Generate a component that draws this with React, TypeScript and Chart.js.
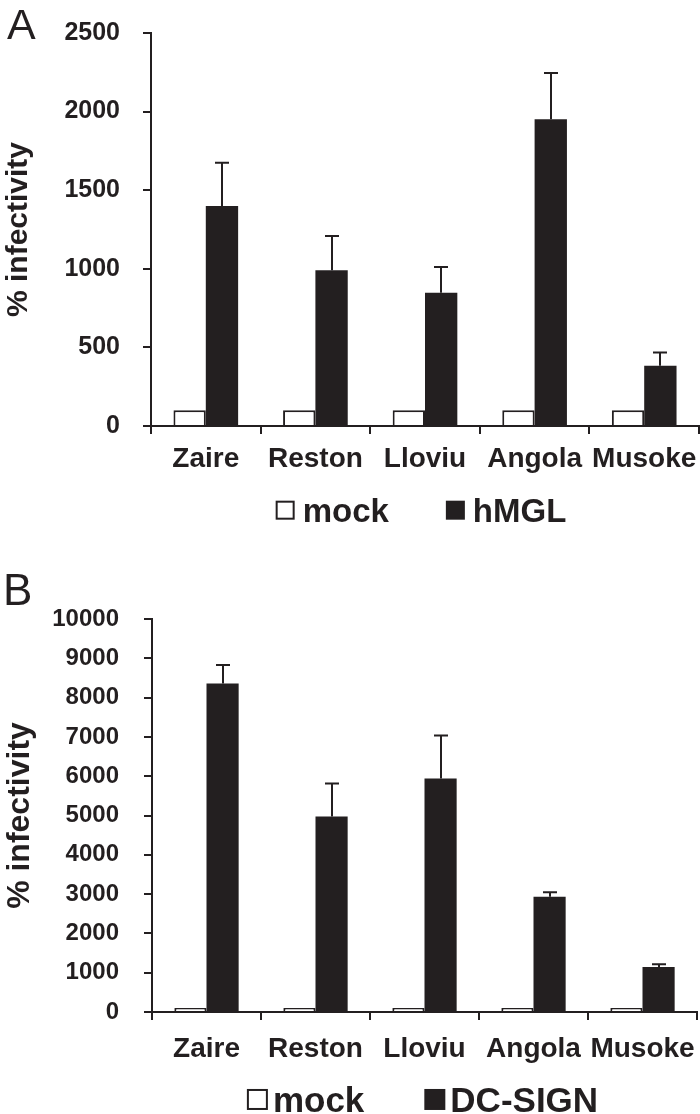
import React, { useEffect, useRef } from 'react';
import { Chart, registerables } from 'chart.js';

Chart.register(...registerables);

const INK = '#231f20';
const FONT = '"Liberation Sans", Arial, Helvetica, sans-serif';

// ---- data ----
const categories = ['Zaire', 'Reston', 'Lloviu', 'Angola', 'Musoke'];

const mockA = [100, 100, 100, 100, 100];
const hmglValues = [1400, 990, 848, 1952, 384];
const hmglUpper = [1675, 1208, 1012, 2245, 468];
const yTicksA = [0, 500, 1000, 1500, 2000, 2500];

const mockB = [100, 100, 100, 100, 100];
const dcsignValues = [8360, 4973, 5943, 2930, 1145];
const dcsignUpper = [8828, 5815, 7033, 3049, 1218];
const yTicksB = [0, 1000, 2000, 3000, 4000, 5000, 6000, 7000, 8000, 9000, 10000];

const seriesLabelsA = ['mock', 'hMGL'];
const seriesLabelsB = ['mock', 'DC-SIGN'];
const yTitle = '% infectivity';

// ---- plugins ----
const errorBarPlugin = {
  id: 'errorBars',
  afterDatasetsDraw(chart: any, _args: any, opts: any) {
    const { ctx } = chart;
    const yScale = chart.scales.y;
    chart.data.datasets.forEach((ds: any, di: number) => {
      if (!ds.upper) return;
      const meta = chart.getDatasetMeta(di);
      ctx.save();
      ctx.strokeStyle = INK;
      ctx.lineWidth = 2;
      meta.data.forEach((el: any, i: number) => {
        const x = Math.round(el.x);
        const yTop = yScale.getPixelForValue(ds.upper[i]);
        const yBar = el.y;
        ctx.beginPath();
        ctx.moveTo(x, yBar);
        ctx.lineTo(x, yTop);
        ctx.moveTo(x - opts.cap / 2, yTop);
        ctx.lineTo(x + opts.cap / 2, yTop);
        ctx.stroke();
      });
      ctx.restore();
    });
  },
};

const panelPlugin = {
  id: 'panelDecor',
  afterDraw(chart: any, _args: any, opts: any) {
    const { ctx, chartArea } = chart;
    ctx.save();
    ctx.fillStyle = INK;
    ctx.textBaseline = 'alphabetic';
    ctx.textAlign = 'left';
    ctx.font = `normal ${opts.letterSize}px ${FONT}`;
    ctx.fillText(opts.letter, opts.letterX, opts.letterY);

    ctx.font = `bold ${opts.fontSize}px ${FONT}`;
    const items = chart.data.datasets.map((ds: any) => ({
      label: ds.label,
      fill: ds.backgroundColor,
    }));
    const widths = items.map(
      (it: any) => opts.box + opts.gap + ctx.measureText(it.label).width
    );
    const total =
      widths.reduce((a: number, b: number) => a + b, 0) +
      opts.itemGap * (items.length - 1);
    let x = (chartArea.left + chartArea.right) / 2 - total / 2 + opts.shift;
    const baseline = chartArea.bottom + opts.offsetY;
    const capH = opts.fontSize * 0.716;
    const boxTop = baseline - capH / 2 - opts.box / 2;
    items.forEach((it: any, i: number) => {
      if (it.fill === '#ffffff') {
        ctx.fillStyle = '#ffffff';
        ctx.fillRect(x, boxTop, opts.box, opts.box);
        ctx.strokeStyle = INK;
        ctx.lineWidth = 2;
        ctx.strokeRect(x + 1, boxTop + 1, opts.box - 2, opts.box - 2);
      } else {
        ctx.fillStyle = INK;
        ctx.fillRect(x, boxTop, opts.box, opts.box);
      }
      ctx.fillStyle = INK;
      ctx.fillText(it.label, x + opts.box + opts.gap, baseline);
      x += widths[i] + opts.itemGap;
    });
    ctx.restore();
  },
};

type PanelCfg = {
  mock: number[];
  values: number[];
  upper: number[];
  ticks: number[];
  labels: string[];
  yWidth: number;
  xHeight: number;
  padding: { top: number; right: number; bottom: number; left: number };
  tickFont: number;
  xFont: number;
  xPad: number;
  yPad: number;
  titleFont: number;
  legend: any;
};

function zeroPadding(scale: any) {
  scale.paddingTop = 0;
  scale.paddingBottom = 0;
  scale.paddingLeft = 0;
  scale.paddingRight = 0;
}

function buildChart(canvas: HTMLCanvasElement, cfg: PanelCfg) {
  return new Chart(canvas, {
    type: 'bar',
    data: {
      labels: categories,
      datasets: [
        {
          label: cfg.labels[0],
          data: cfg.mock,
          backgroundColor: '#ffffff',
          borderColor: INK,
          borderWidth: 2,
          categoryPercentage: 0.59,
          barPercentage: 1,
        } as any,
        {
          label: cfg.labels[1],
          data: cfg.values,
          upper: cfg.upper,
          backgroundColor: INK,
          borderColor: INK,
          borderWidth: 0,
          categoryPercentage: 0.59,
          barPercentage: 1,
        } as any,
      ],
    },
    options: {
      responsive: false,
      animation: false,
      devicePixelRatio: 1,
      layout: { padding: cfg.padding },
      plugins: {
        legend: { display: false },
        tooltip: { enabled: false },
        errorBars: { cap: 14 },
        panelDecor: cfg.legend,
      } as any,
      scales: {
        x: {
          z: 1,
          grid: {
            offset: true,
            drawOnChartArea: false,
            drawTicks: true,
            tickLength: 8,
            color: INK,
            lineWidth: 2,
          },
          border: { display: true, color: INK, width: 2 },
          ticks: {
            color: INK,
            font: { family: FONT, size: cfg.xFont, weight: 'bold' },
            padding: cfg.xPad,
            maxRotation: 0,
            minRotation: 0,
            autoSkip: false,
          },
          afterFit: (scale: any) => {
            scale.height = cfg.xHeight;
            zeroPadding(scale);
          },
        },
        y: {
          min: cfg.ticks[0],
          max: cfg.ticks[cfg.ticks.length - 1],
          afterBuildTicks: (scale: any) => {
            scale.ticks = cfg.ticks.map((v) => ({ value: v }));
          },
          grid: {
            drawOnChartArea: false,
            drawTicks: true,
            tickLength: 8,
            color: INK,
            lineWidth: 2,
          },
          border: { display: true, color: INK, width: 2 },
          ticks: {
            color: INK,
            font: { family: FONT, size: cfg.tickFont, weight: 'bold' },
            padding: cfg.yPad,
            callback: (v: any) => String(v),
          },
          title: {
            display: true,
            text: yTitle,
            color: INK,
            font: { family: FONT, size: cfg.titleFont, weight: 'bold', lineHeight: 1 },
            padding: { top: 4, bottom: 0 },
          },
          afterFit: (scale: any) => {
            scale.width = cfg.yWidth;
            zeroPadding(scale);
          },
        },
      },
    } as any,
    plugins: [errorBarPlugin, panelPlugin],
  });
}

export default function App() {
  const refA = useRef<HTMLCanvasElement>(null);
  const refB = useRef<HTMLCanvasElement>(null);

  useEffect(() => {
    Chart.defaults.font.family = FONT;
    const a = buildChart(refA.current!, {
      mock: mockA,
      values: hmglValues,
      upper: hmglUpper,
      ticks: yTicksA,
      labels: seriesLabelsA,
      yWidth: 151,
      xHeight: 60,
      padding: { top: 33, right: 1, bottom: 59, left: 0 },
      tickFont: 25,
      xFont: 28,
      xPad: 8,
      yPad: 23,
      titleFont: 30,
      legend: {
        letter: 'A',
        letterX: 7,
        letterY: 39,
        letterSize: 43,
        fontSize: 33,
        box: 19,
        gap: 8,
        itemGap: 57,
        shift: -4,
        offsetY: 96,
      },
    });
    const b = buildChart(refB.current!, {
      mock: mockB,
      values: dcsignValues,
      upper: dcsignUpper,
      ticks: yTicksB,
      labels: seriesLabelsB,
      yWidth: 152,
      xHeight: 60,
      padding: { top: 74, right: 3, bottom: 42, left: 0 },
      tickFont: 24,
      xFont: 28,
      xPad: 12,
      yPad: 25,
      titleFont: 32,
      legend: {
        letter: 'B',
        letterX: 3,
        letterY: 60,
        letterSize: 44,
        fontSize: 35,
        box: 21,
        gap: 5,
        itemGap: 60,
        shift: -2,
        offsetY: 100,
      },
    });
    return () => {
      a.destroy();
      b.destroy();
    };
  }, []);

  return (
    <div
      style={{
        position: 'absolute',
        left: 0,
        top: 0,
        width: 700,
        height: 1114,
        background: '#ffffff',
        overflow: 'hidden',
      }}
    >
      <canvas
        ref={refA}
        width={700}
        height={545}
        style={{ position: 'absolute', left: 0, top: 0, width: 700, height: 545 }}
      />
      <canvas
        ref={refB}
        width={700}
        height={569}
        style={{ position: 'absolute', left: 0, top: 545, width: 700, height: 569 }}
      />
    </div>
  );
}
